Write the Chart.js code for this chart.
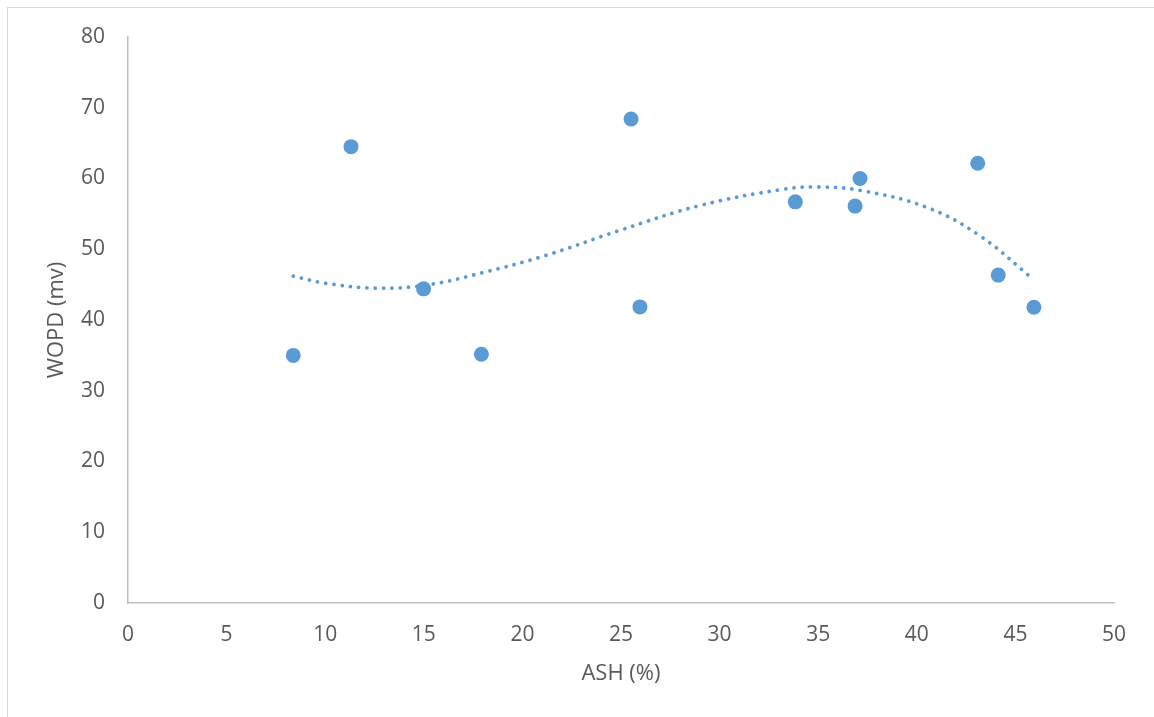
<html>
<head>
<script src="https://cdn.jsdelivr.net/npm/chart.js"></script>
<style>
	body { margin: 0; background: #fff; overflow: hidden; }
	#frame { position: absolute; left: 7px; top: 7px; width: 1200px; height: 800px; border: 1.5px solid #d9d9d9; }
	#wrap { position: absolute; left: 0; top: 0; width: 1154px; height: 717px; }
</style>
<script>
	// measured points
	var ash  = [8.38, 11.31, 14.99, 17.92, 25.51, 25.96, 33.84, 36.87, 37.12, 43.09, 44.13, 45.94];
	var wopd = [35.0, 64.5, 44.4, 35.15, 68.4, 41.85, 56.7, 56.1, 60.0, 62.15, 46.35, 41.8];

	// dotted trendline
	var trendX = [8.38, 10, 12.68, 15.25, 18, 21.16, 24.86, 29.04, 33.27, 34.99, 37.17, 40.52, 43.2, 45.89];
	var trendY = [46.2, 45.2, 44.5, 45.0, 46.7, 49.1, 52.6, 56.2, 58.5, 58.8, 58.3, 55.9, 51.9, 45.8];

	var xTicks = [0, 5, 10, 15, 20, 25, 30, 35, 40, 45, 50];
	var yTicks = [0, 10, 20, 30, 40, 50, 60, 70, 80];

	var blue = "#5b9bd5";
	var grey = "#595959";

	function pairs(xs, ys){
		var out = [];
		for(var i = 0; i < xs.length; i++)
			out.push({x: xs[i], y: ys[i]});
		return out;
	}

	window.onload = function(){
		var ctx = document.getElementById("myChart").getContext("2d");
		var tickFont = {family: "'Open Sans', sans-serif", size: 21};
		var titleFont = {family: "'Open Sans', sans-serif", size: 22};
		new Chart(ctx, {
			type: "scatter",
			data: {
				datasets: [{
					data: pairs(trendX, trendY),
					showLine: true,
					borderColor: blue,
					borderWidth: 3.8,
					borderDash: [0.01, 8.3],
					borderCapStyle: "round",
					tension: 0.4,
					pointRadius: 0,
					order: 0
				}, {
					data: pairs(ash, wopd),
					backgroundColor: blue,
					borderColor: blue,
					pointRadius: 7.5,
					pointBorderWidth: 0,
					order: 1
				}]
			},
			options: {
				responsive: false,
				animation: false,
				layout: {padding: {left: 36, top: 37, right: 40, bottom: 20}},
				plugins: {legend: {display: false}, tooltip: {enabled: false}},
				scales: {
					x: {
						type: "linear",
						min: 0, max: 50,
						afterBuildTicks: function(s){ s.ticks = xTicks.map(function(v){ return {value: v}; }); },
						afterFit: function(s){ s.height = 94; },
						grid: {display: false, drawTicks: false},
						border: {display: true, color: "#bfbfbf", width: 1.5},
						ticks: {color: grey, font: tickFont, padding: 19, maxRotation: 0},
						title: {display: true, text: "ASH (%)", color: grey, font: titleFont, padding: {top: 0, bottom: 10}}
					},
					y: {
						min: 0, max: 80,
						afterBuildTicks: function(s){ s.ticks = yTicks.map(function(v){ return {value: v}; }); },
						afterFit: function(s){ s.width = 92; },
						grid: {display: false, drawTicks: false},
						border: {display: true, color: "#bfbfbf", width: 1.5},
						ticks: {color: grey, font: tickFont, padding: 23},
						title: {display: true, text: "WOPD (mv)", color: grey, font: titleFont, padding: {top: 8, bottom: 0}}
					}
				}
			}
		});
	};
</script>
</head>
<body>
	<div id="frame"></div>
	<div id="wrap"><canvas id="myChart" width="1154" height="717"></canvas></div>
</body>
</html>
